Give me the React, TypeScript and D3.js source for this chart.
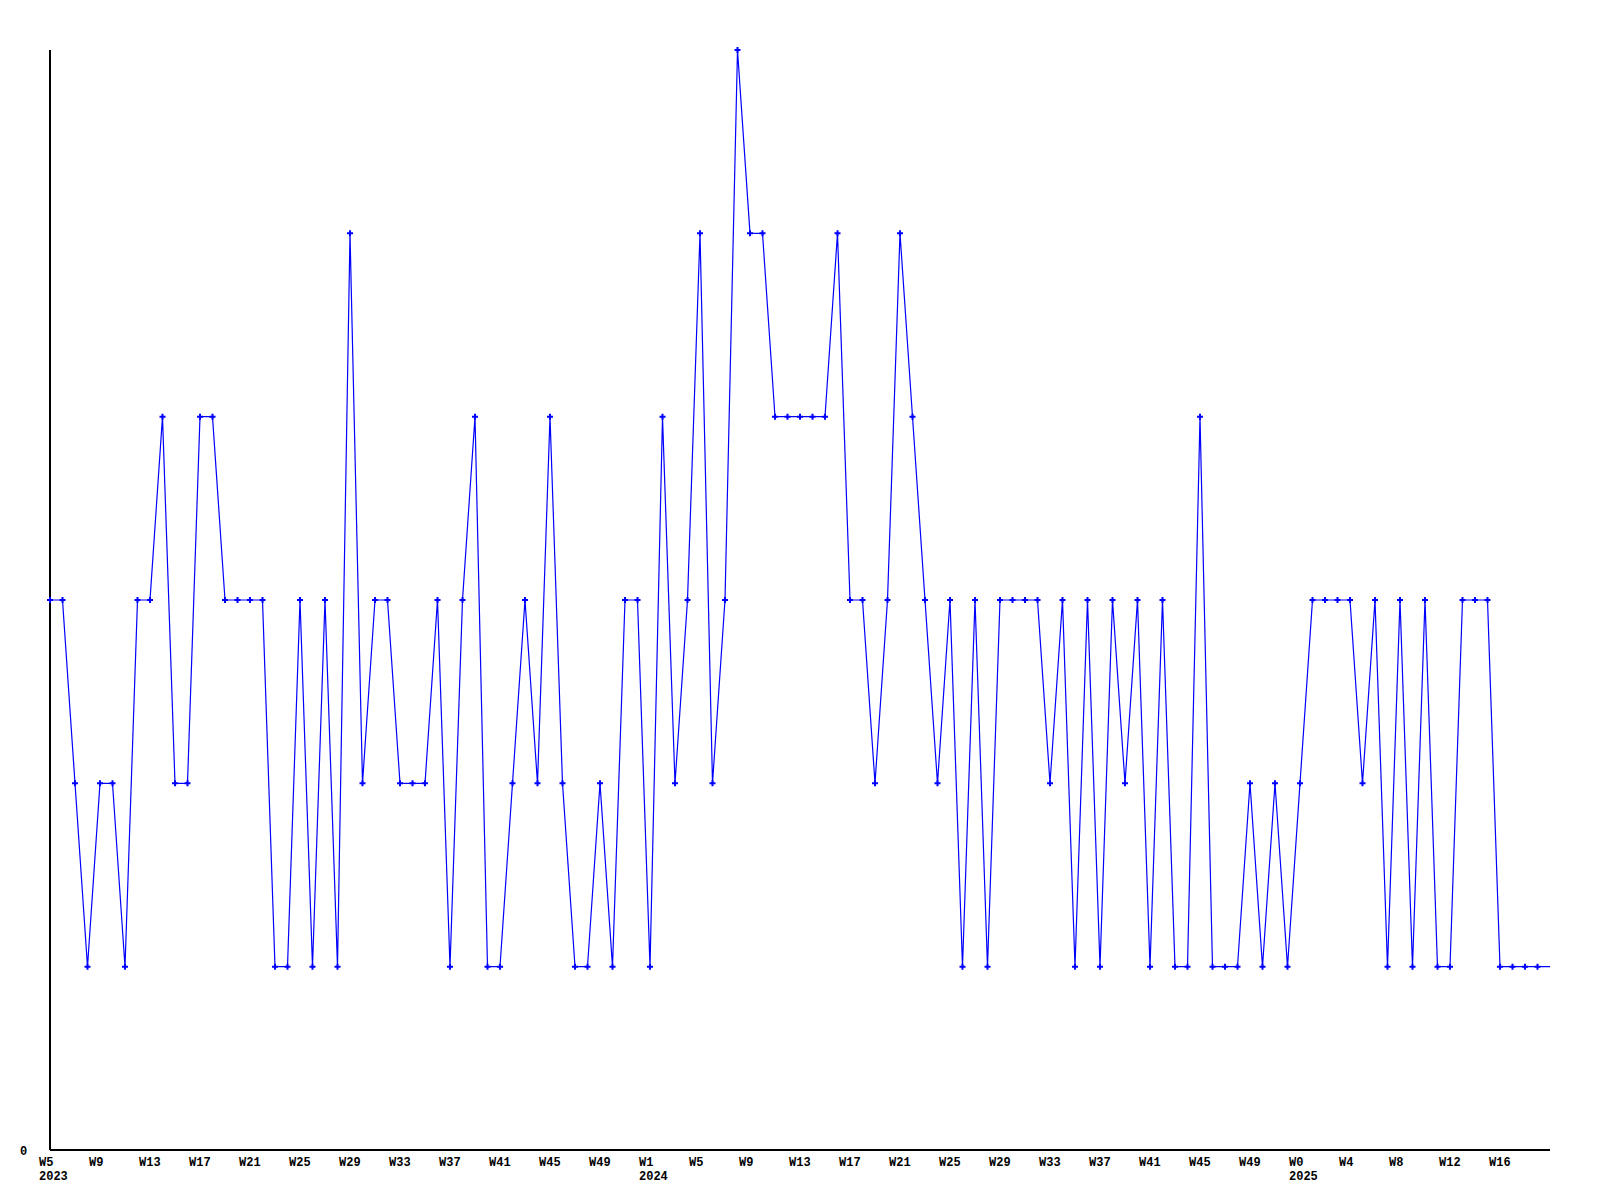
import React, { useEffect } from "react";
import * as d3 from "d3";

// Weekly values, one per week from 2023-W5 to 2025-W20
const values2023: number[] = [
  3, 3, 2, 1, 2, 2, 1, 3, 3, 4, 2, 2, 4, 4, 3, 3, 3, 3, 1, 1, 3, 1, 3, 1,
  5, 2, 3, 3, 2, 2, 2, 3, 1, 3, 4, 1, 1, 2, 3, 2, 4, 2, 1, 1, 2, 1, 3, 3,
];
const values2024: number[] = [
  1, 4, 2, 3, 5, 2, 3, 6, 5, 5, 4, 4, 4, 4, 4, 5, 3, 3, 2, 3, 5, 4, 3, 2,
  3, 1, 3, 1, 3, 3, 3, 3, 2, 3, 1, 3, 1, 3, 2, 3, 1, 3, 1, 1, 4, 1, 1, 1,
  2, 1, 2, 1,
];
const values2025: number[] = [
  2, 3, 3, 3, 3, 2, 3, 1, 3, 1, 3, 1, 1, 3, 3, 3, 1, 1, 1, 1, 1,
];

const tickLabels: string[] = [
  "W5", "W9", "W13", "W17", "W21", "W25", "W29", "W33", "W37", "W41", "W45", "W49",
  "W1", "W5", "W9", "W13", "W17", "W21", "W25", "W29", "W33", "W37", "W41", "W45", "W49",
  "W0", "W4", "W8", "W12", "W16",
];
const tickEvery = 4;

const yearLabels: string[] = ["2023", "2024", "2025"];
const yearStarts: number[] = [0, 48, 100];

const yTickLabels: string[] = ["0"];
const yTickValues: number[] = [0];

const values: number[] = [...values2023, ...values2024, ...values2025];

const W = 1600;
const H = 1200;
const left = 50;
const right = 1550;
const top = 50;
const bottom = 1150;

export default function App() {
  useEffect(() => {
    document.body.style.margin = "0";
  }, []);

  const x = d3.scaleLinear().domain([0, values.length - 1]).range([left, right]);
  const y = d3.scaleLinear().domain([0, 6]).range([bottom, top]);

  const line = d3
    .line<number>()
    .x((_, i) => x(i))
    .y((d) => y(d));

  const marker = d3.symbol().type(d3.symbolCross).size(20)() as string;

  const font = "'Liberation Mono', 'DejaVu Sans Mono', monospace";
  const fs = 12;

  return (
    <svg width={W} height={H} style={{ display: "block", background: "#fff" }}>
      <rect x={0} y={0} width={W} height={H} fill="#fff" />
      {/* axes */}
      <line x1={left} y1={top} x2={left} y2={bottom} stroke="#000" strokeWidth={2} shapeRendering="crispEdges" />
      <line x1={left} y1={bottom} x2={right} y2={bottom} stroke="#000" strokeWidth={1.5} shapeRendering="crispEdges" />

      {/* series */}
      <path d={line(values) || ""} fill="none" stroke="#0000ff" strokeWidth={1.2} />
      {values.slice(0, values.length - 1).map((v, i) => (
        <path key={i} d={marker} transform={`translate(${x(i)},${y(v)})`} fill="#0000ff" />
      ))}

      {/* y tick labels */}
      {yTickValues.map((v, i) => (
        <text key={"y" + i} x={20} y={y(v) + 5} fontFamily={font} fontWeight="bold" fontSize={fs} fill="#000">
          {yTickLabels[i]}
        </text>
      ))}

      {/* x tick labels */}
      {tickLabels.map((t, i) => (
        <text key={"x" + i} x={x(i * tickEvery) - 11} y={1166} fontFamily={font} fontWeight="bold" fontSize={fs} fill="#000">
          {t}
        </text>
      ))}

      {/* year labels */}
      {yearLabels.map((t, i) => (
        <text key={"yr" + i} x={x(yearStarts[i]) - 11} y={1180} fontFamily={font} fontWeight="bold" fontSize={fs} fill="#000">
          {t}
        </text>
      ))}
    </svg>
  );
}
